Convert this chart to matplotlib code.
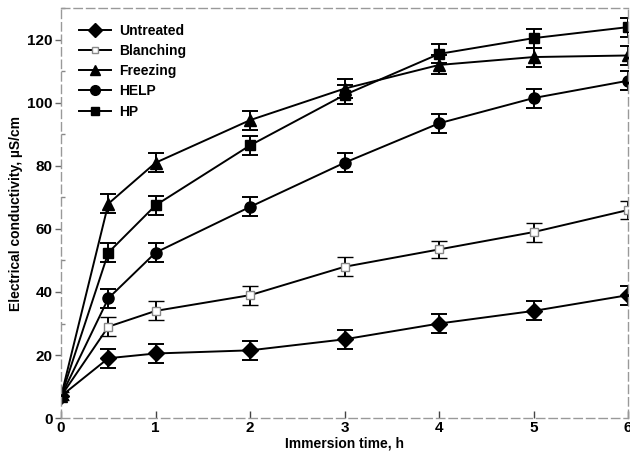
import matplotlib
matplotlib.use("Agg")
import matplotlib.pyplot as plt
from matplotlib.ticker import MultipleLocator
from matplotlib.lines import Line2D

plt.rcParams['font.family'] = ['Liberation Sans', 'DejaVu Sans']
plt.rcParams['font.weight'] = 'bold'

time_h = [0, 0.5, 1, 2, 3, 4, 5, 6]
untreated = [7, 19, 20.5, 21.5, 25, 30, 34, 39]
blanching = [7, 29, 34, 39, 48, 53.5, 59, 66]
freezing = [7, 68, 81, 94.5, 104.5, 112, 114.5, 115]
help_ = [7, 38, 52.5, 67, 81, 93.5, 101.5, 107]
hp = [7, 52.5, 67.5, 86.5, 102.5, 115.5, 120.5, 124]
err_untreated = [1.2, 3, 3, 3, 3, 3, 3, 3]
err_blanching = [1.2, 3, 3, 3, 3, 2.8, 3, 3]
err_freezing = [1.2, 3, 3, 3, 3, 3, 3, 3]
err_help = [1.2, 3, 3, 3, 3, 3, 3, 3]
err_hp = [1.2, 3, 3, 3, 3, 3, 3, 3]

fig = plt.figure(figsize=(6.3, 4.54), dpi=100)
ax = fig.add_axes([0.097, 0.079, 0.9, 0.903])

series = [
    ("Untreated", untreated, err_untreated, dict(marker='D', ms=8, mfc='black', mec='black')),
    ("Blanching", blanching, err_blanching, dict(marker='s', ms=6, mfc='white', mec='#888888', mew=1.0)),
    ("Freezing", freezing, err_freezing, dict(marker='^', ms=8, mfc='black', mec='black')),
    ("HELP", help_, err_help, dict(marker='o', ms=8, mfc='black', mec='black')),
    ("HP", hp, err_hp, dict(marker='s', ms=7, mfc='black', mec='black')),
]

handles = []
for name, vals, errs, style in series:
    ax.errorbar(time_h, vals, yerr=errs, color='black', lw=1.4, elinewidth=1.4,
                capsize=5.5, capthick=1.4, **style)
    hstyle = dict(style)
    hstyle['ms'] = style['ms'] - 1
    handles.append(Line2D([], [], color='black', lw=1.4, label=name, **hstyle))

ax.set_xlim(0, 6)
ax.set_ylim(0, 130)
ax.xaxis.set_major_locator(MultipleLocator(1))
ax.yaxis.set_major_locator(MultipleLocator(20))
ax.yaxis.set_minor_locator(MultipleLocator(10))
ax.tick_params(axis='x', direction='in', length=5, width=1, color='#444444', labelsize=11, pad=2)
ax.tick_params(axis='y', which='major', direction='out', length=4, width=1, color='#666666', labelsize=11, pad=2)
ax.tick_params(axis='y', which='minor', direction='in', length=3, width=1, color='#888888')
for lab in ax.get_xticklabels() + ax.get_yticklabels():
    lab.set_fontweight('bold')

for s in ['left', 'right', 'top', 'bottom']:
    ax.spines[s].set_color('#999999')
    ax.spines[s].set_linewidth(1.0)
    ax.spines[s].set_linestyle((0, (6, 3)))

ax.set_xlabel("Immersion time, h", fontsize=10, fontweight='bold', labelpad=1)
ax.set_ylabel("Electrical conductivity, µS/cm", fontsize=10, fontweight='bold', labelpad=3)

leg = ax.legend(handles=handles, loc='upper left', bbox_to_anchor=(0.01, 0.993), frameon=False, fontsize=10,
                handlelength=2.3, labelspacing=0.45, handletextpad=0.6)
for t in leg.get_texts():
    t.set_fontweight('bold')

fig.savefig("out.png", dpi=100)
